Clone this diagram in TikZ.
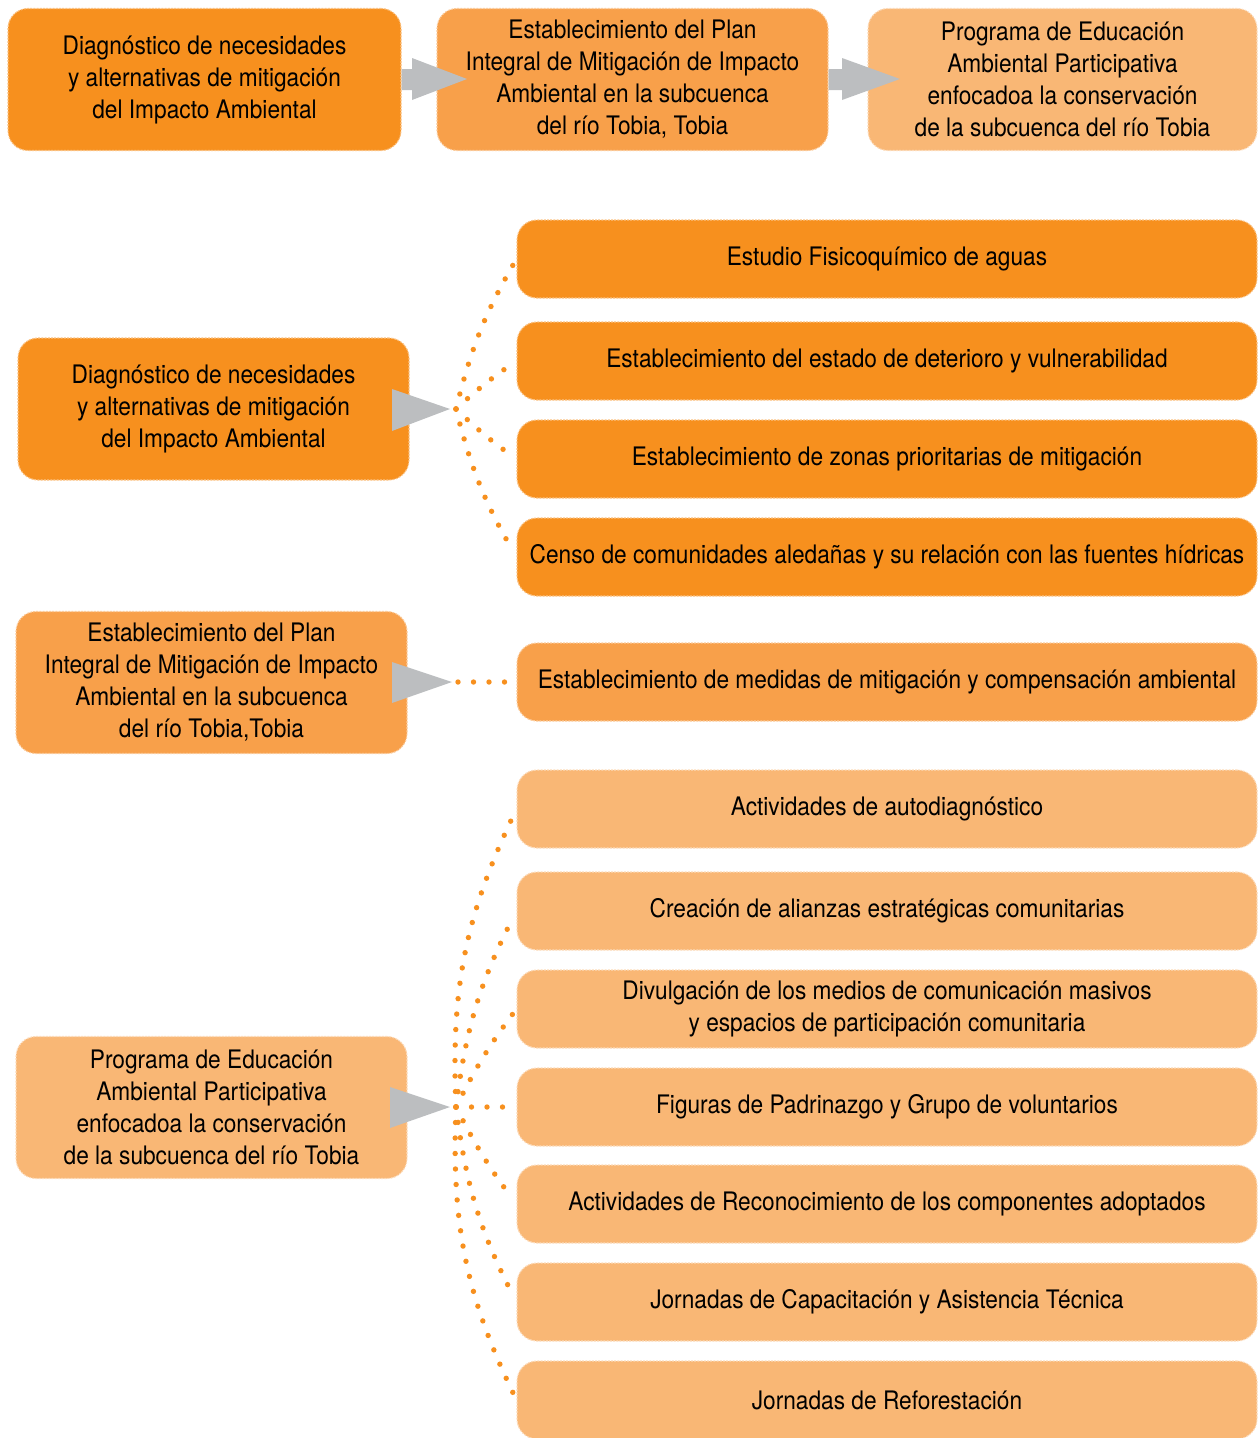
\documentclass[tikz,border=0pt]{standalone}
\usepackage{fontspec}
\setmainfont{TeX Gyre Heros}[FakeStretch=0.89]
\definecolor{odark}{HTML}{F7901E}
\definecolor{omed}{HTML}{F8A04A}
\definecolor{olight}{HTML}{F9B775}
\definecolor{agray}{HTML}{BCBEC0}
\begin{document}
\begin{tikzpicture}[x=1pt,y=-1pt,
  box/.style={rounded corners=20pt, inner sep=0pt, align=center,
    font=\fontsize{25.5}{32}\selectfont, text=black,
    line width=1.1pt, dash pattern=on 2pt off 1.2pt},
  bdark/.style={box, fill=odark, draw=odark!55!white},
  bmed/.style={box, fill=omed, draw=omed!55!white},
  blight/.style={box, fill=olight, draw=olight!50!white},
  big/.style={minimum width=391pt, minimum height=142pt},
  wide/.style={minimum width=740pt, minimum height=78pt},
  arr/.style={fill=agray, draw=none},
  dots/.style={draw=odark, line width=5.4pt, line cap=round, dash pattern=on 0pt off 15.5pt, shorten >=6pt}
]
\useasboundingbox (0,0) rectangle (1258,1438);

% top row
\node[bdark, big, minimum width=393pt] (a1) at (204.5,79.5) {Diagnóstico de necesidades\\y alternativas de mitigación\\del Impacto Ambiental};
\node[bmed, big] (a2) at (632.5,79.5) {Establecimiento del Plan\\Integral de Mitigación de Impacto\\Ambiental en la subcuenca\\del río Tobia, Tobia};
\node[blight, big, minimum width=389pt] (a3) at (1062.5,79.5) {Programa de Educación\\Ambiental Participativa\\enfocadoa la conservación\\de la subcuenca del río Tobia};
\fill[arr] (a1.east |- 0,69) -- (412,69) -- (412,58) -- (467,79) -- (412,100) -- (412,90) -- (a1.east |- 0,90) -- cycle;
\fill[arr] (a2.east |- 0,69) -- (842,69) -- (842,58) -- (900,79) -- (842,100) -- (842,90) -- (a2.east |- 0,90) -- cycle;

% group 1
\node[bdark, big] (b) at (213.5,409) {Diagnóstico de necesidades\\y alternativas de mitigación\\del Impacto Ambiental};
\fill[arr] (392,389) -- (450,409) -- (392,431) -- cycle;
\coordinate (tb) at (456,409);
\node[bdark, wide] (r1) at (887,259) {Estudio Fisicoquímico de aguas};
\node[bdark, wide] (r2) at (887,361) {Establecimiento del estado de deterioro y vulnerabilidad};
\node[bdark, wide] (r3) at (887,459) {Establecimiento de zonas prioritarias de mitigación};
\node[bdark, wide] (r4) at (887,557) {Censo de comunidades aledañas y su relación con las fuentes hídricas};
\draw[dots] (tb) to[bend left=8] (r1.west);
\draw[dots] (tb) to[bend left=4] (r2.west);
\draw[dots] (tb) to[bend right=4] (r3.west);
\draw[dots] (tb) to[bend right=8] (r4.west);

% group 2
\node[bmed, big] (c) at (211.5,682.5) {Establecimiento del Plan\\Integral de Mitigación de Impacto\\Ambiental en la subcuenca\\del río Tobia,Tobia};
\fill[arr] (392,662) -- (452,682) -- (392,703) -- cycle;
\coordinate (tc) at (458,682);
\node[bmed, wide] (r5) at (887,682) {Establecimiento de medidas de mitigación y compensación ambiental};
\draw[dots] (tc) -- (r5.west);

% group 3
\node[blight, big] (d) at (211.5,1107.5) {Programa de Educación\\Ambiental Participativa\\enfocadoa la conservación\\de la subcuenca del río Tobia};
\fill[arr] (390,1087) -- (450,1107) -- (390,1128) -- cycle;
\coordinate (td) at (456,1107);
\node[blight, wide] (s1) at (887,809) {Actividades de autodiagnóstico};
\node[blight, wide] (s2) at (887,911) {Creación de alianzas estratégicas comunitarias};
\node[blight, wide] (s3) at (887,1009) {Divulgación de los medios de comunicación masivos\\y espacios de participación comunitaria};
\node[blight, wide] (s4) at (887,1107) {Figuras de Padrinazgo y Grupo de voluntarios};
\node[blight, wide] (s5) at (887,1204) {Actividades de Reconocimiento de los componentes adoptados};
\node[blight, wide] (s6) at (887,1302) {Jornadas de Capacitación y Asistencia Técnica};
\node[blight, wide] (s7) at (887,1400) {Jornadas de Reforestación};
\draw[dots] (td) to[bend left=14] (s1.west);
\draw[dots] (td) to[bend left=10] (s2.west);
\draw[dots] (td) to[bend left=5] (s3.west);
\draw[dots] (td) -- (s4.west);
\draw[dots] (td) to[bend right=5] (s5.west);
\draw[dots] (td) to[bend right=10] (s6.west);
\draw[dots] (td) to[bend right=14] (s7.west);
\end{tikzpicture}
\end{document}
